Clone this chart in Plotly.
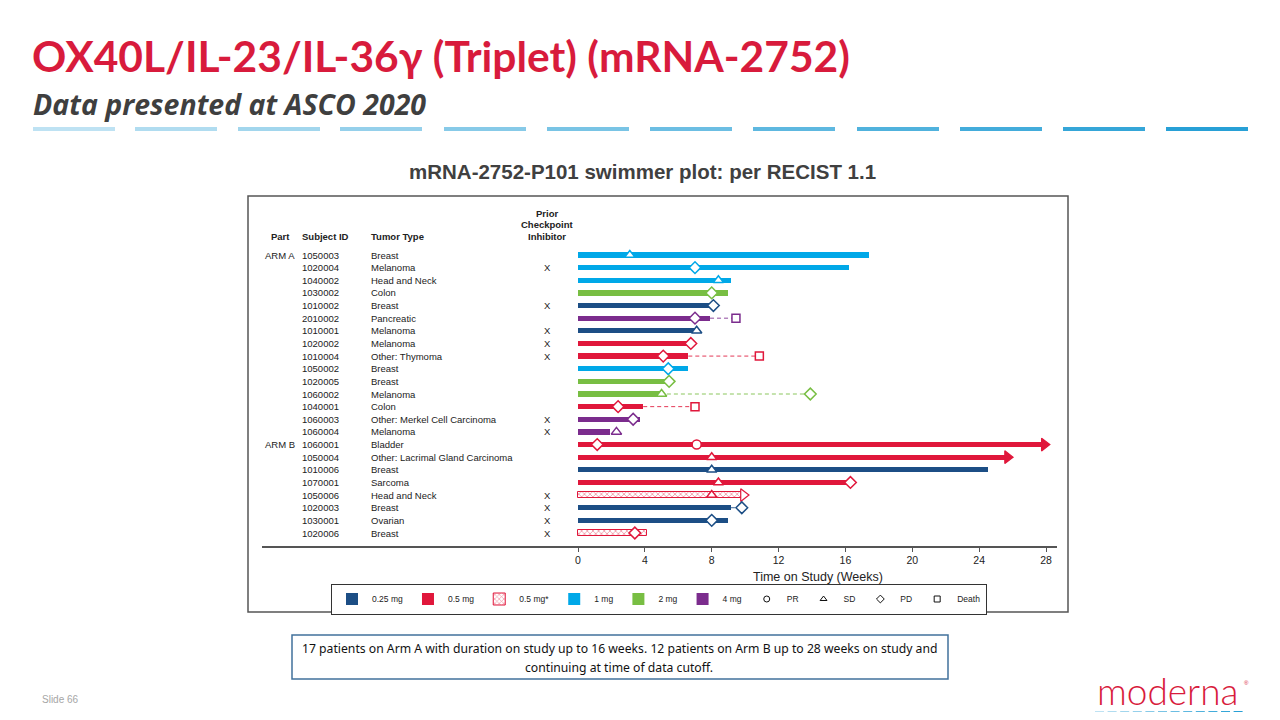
import plotly.graph_objects as go

# ---------------- data ----------------
parts = ["ARM A", "", "", "", "", "", "", "", "", "", "", "", "", "", "",
         "ARM B", "", "", "", "", "", "", ""]
subject_ids = ["1050003", "1020004", "1040002", "1030002", "1010002", "2010002", "1010001",
               "1020002", "1010004", "1050002", "1020005", "1060002", "1040001", "1060003",
               "1060004", "1060001", "1050004", "1010006", "1070001", "1050006", "1020003",
               "1030001", "1020006"]
tumor_types = ["Breast", "Melanoma", "Head and Neck", "Colon", "Breast", "Pancreatic", "Melanoma",
               "Melanoma", "Other: Thymoma", "Breast", "Breast", "Melanoma", "Colon",
               "Other: Merkel Cell Carcinoma", "Melanoma", "Bladder",
               "Other: Lacrimal Gland Carcinoma", "Breast", "Sarcoma", "Head and Neck", "Breast",
               "Ovarian", "Breast"]
prior_cpi = ["", "X", "", "", "X", "", "X", "X", "X", "", "", "", "", "X", "X",
             "", "", "", "", "X", "X", "X", "X"]
doses = ["1 mg", "1 mg", "1 mg", "2 mg", "0.25 mg", "4 mg", "0.25 mg", "0.5 mg", "0.5 mg",
         "1 mg", "2 mg", "2 mg", "0.5 mg", "4 mg", "4 mg", "0.5 mg", "0.5 mg", "0.25 mg",
         "0.5 mg", "0.5 mg*", "0.25 mg", "0.25 mg", "0.5 mg*"]
treatment_weeks = [17.4, 16.2, 9.15, 9.0, 7.9, 7.9, 7.0, 6.5, 6.6, 6.6, 5.2, 4.9, 3.9, 3.7, 1.9,
                   27.9, 25.7, 24.5, 16.3, 9.9, 9.15, 9.0, 4.15]
followup_weeks = [None, None, None, None, None, 9.45, None, None, 10.85, None, None, 13.9, 7.0,
                  None, None, None, None, None, None, None, 9.8, None, None]
ongoing = [False] * 15 + [True, True, False, False, True, False, False, False]
pr_weeks = [None, None, None, None, None, None, None, None, None, None, None, None, None, None,
            None, 7.1, None, None, None, None, None, None, None]
sd_weeks = [3.1, None, 8.4, None, None, None, 7.1, None, None, None, None, 5.0, None, None, 2.3,
            None, 8.0, 8.0, 8.4, 8.0, None, None, None]
pd_weeks = [None, 7.0, None, 8.0, 8.1, 7.0, None, 6.75, 5.1, 5.4, 5.45, 13.9, 2.4, 3.3, None,
            1.15, None, None, 16.3, None, 9.8, 8.0, 3.4]
death_weeks = [None, None, None, None, None, 9.45, None, None, 10.85, None, None, None, 7.0,
               None, None, None, None, None, None, None, None, None, None]

dose_order = ["0.25 mg", "0.5 mg", "0.5 mg*", "1 mg", "2 mg", "4 mg"]
x_ticks = [0, 4, 8, 12, 16, 20, 24, 28]

# ---------------- styling ----------------
RED = "#E0173B"
dose_colors = {"0.25 mg": "#1C4E85", "0.5 mg": RED, "0.5 mg*": RED,
               "1 mg": "#00A8E8", "2 mg": "#78BE43", "4 mg": "#7B2C8D"}
TEXT = "#222222"
FONT = "Liberation Sans, Arial, sans-serif"

OFF = 8                      # page body margin
W, H = 1280 - 2 * OFF, 720 - 2 * OFF
def px(x):
    return (x - OFF) / W
def py(y):
    return 1 - (y - OFF) / H

# axis geometry (screen pixels)
X0_PX, X28_PX = 578, 1046
PXW = (X28_PX - X0_PX) / 28.0
AX_L, AX_R = 262, 1057
ROW0_PX, ROWN_PX = 255, 533
RS = (ROWN_PX - ROW0_PX) / 22.0
AX_TOP, AX_BOT = 200, 546

rows = list(range(len(subject_ids)))

fig = go.Figure()

# treatment bars
for d in dose_order:
    idx = [i for i in rows if doses[i] == d]
    if d == "0.5 mg*":
        marker = dict(color="white", line=dict(color=RED, width=1),
                      pattern=dict(shape="x", fgcolor=RED, bgcolor="white", size=4, solidity=0.35))
    else:
        marker = dict(color=dose_colors[d], line=dict(width=0))
    fig.add_trace(go.Bar(
        x=[treatment_weeks[i] for i in idx], y=idx, base=0, orientation="h",
        width=0.42, marker=marker, name=d, showlegend=True, hoverinfo="skip"))

# follow-up dashed lines
for i in rows:
    if followup_weeks[i] is not None:
        fig.add_trace(go.Scatter(
            x=[treatment_weeks[i], followup_weeks[i]], y=[i, i], mode="lines",
            line=dict(color=dose_colors[doses[i]], width=1, dash="4px,3px"),
            opacity=0.85, showlegend=False, hoverinfo="skip"))

# ongoing arrows
arr_idx = [i for i in rows if ongoing[i]]
fig.add_trace(go.Scatter(
    x=[treatment_weeks[i] for i in arr_idx], y=arr_idx, mode="markers",
    marker=dict(symbol="triangle-right", size=11,
                color=["white" if doses[i] == "0.5 mg*" else dose_colors[doses[i]] for i in arr_idx],
                line=dict(color=[dose_colors[doses[i]] for i in arr_idx], width=1.2)),
    showlegend=False, hoverinfo="skip"))

# response / event markers
events = [("PR", pr_weeks, "circle"), ("SD", sd_weeks, "triangle-up"),
          ("PD", pd_weeks, "diamond"), ("Death", death_weeks, "square")]
for name, vals, sym in events:
    idx = [i for i in rows if vals[i] is not None]
    fig.add_trace(go.Scatter(
        x=[vals[i] for i in idx], y=idx, mode="markers",
        marker=dict(symbol=sym, size=9 if sym != "square" else 8, color="white",
                    line=dict(color=[dose_colors[doses[i]] for i in idx], width=1.5)),
        showlegend=False, hoverinfo="skip"))

# legend entries for symbols
for name, vals, sym in events:
    fig.add_trace(go.Scatter(
        x=[None], y=[None], mode="markers", name=name,
        marker=dict(symbol=sym + "-open", size=6, color="#111111", line=dict(width=1))))

# ---------------- table annotations ----------------
ann = []
cell = dict(size=9.5, color=TEXT, family=FONT)
for i in rows:
    if parts[i]:
        ann.append(dict(x=px(263), y=i, xref="paper", yref="y", text=parts[i],
                        xanchor="left", yanchor="middle", showarrow=False, font=cell))
    ann.append(dict(x=px(300), y=i, xref="paper", yref="y", text=subject_ids[i],
                    xanchor="left", yanchor="middle", showarrow=False, font=cell))
    ann.append(dict(x=px(369), y=i, xref="paper", yref="y", text=tumor_types[i],
                    xanchor="left", yanchor="middle", showarrow=False, font=cell))
    if prior_cpi[i]:
        ann.append(dict(x=px(547), y=i, xref="paper", yref="y", text=prior_cpi[i],
                        xanchor="center", yanchor="middle", showarrow=False, font=cell))

hdr = dict(size=9.5, color=TEXT, family=FONT)
for txt, x, anchor in [("<b>Part</b>", 269, "left"), ("<b>Subject ID</b>", 300, "left"),
                       ("<b>Tumor Type</b>", 369, "left")]:
    ann.append(dict(x=px(x), y=py(236), xref="paper", yref="paper", text=txt, xanchor=anchor,
                    yanchor="middle", showarrow=False, font=hdr))
for txt, y in [("<b>Prior</b>", 213), ("<b>Checkpoint</b>", 224.5), ("<b>Inhibitor</b>", 236)]:
    ann.append(dict(x=px(547), y=py(y), xref="paper", yref="paper", text=txt, xanchor="center",
                    yanchor="middle", showarrow=False, font=hdr))

# axis title
ann.append(dict(x=px(818), y=py(577), xref="paper", yref="paper", text="Time on Study (Weeks)",
                xanchor="center", yanchor="middle", showarrow=False,
                font=dict(size=12.5, color=TEXT, family=FONT)))

# slide texts
ann.append(dict(x=px(30), y=py(56), xref="paper", yref="paper",
                text="<b>OX40L/IL-23/IL-36γ (Triplet) (mRNA-2752)</b>",
                xanchor="left", yanchor="middle", showarrow=False,
                font=dict(size=42.5, color="#D81B3C", family="Lato, Liberation Sans, sans-serif")))
ann.append(dict(x=px(31), y=py(104), xref="paper", yref="paper",
                text="<b><i>Data presented at ASCO 2020</i></b>",
                xanchor="left", yanchor="middle", showarrow=False,
                font=dict(size=28.5, color="#3F3F3F", family="Open Sans, sans-serif")))
ann.append(dict(x=px(642), y=py(171), xref="paper", yref="paper",
                text="<b>mRNA-2752-P101 swimmer plot: per RECIST 1.1</b>",
                xanchor="center", yanchor="middle", showarrow=False,
                font=dict(size=20.5, color="#404040", family=FONT)))
footer_font = dict(size=12.2, color="#111111", family="Noto Sans, sans-serif")
ann.append(dict(x=px(619), y=py(648), xref="paper", yref="paper",
                text="17 patients on Arm A with duration on study up to 16 weeks. 12 patients on Arm B up to 28 weeks on study and",
                xanchor="center", yanchor="middle", showarrow=False, font=footer_font))
ann.append(dict(x=px(619), y=py(667), xref="paper", yref="paper",
                text="continuing at time of data cutoff.",
                xanchor="center", yanchor="middle", showarrow=False, font=footer_font))
ann.append(dict(x=px(40), y=py(699), xref="paper", yref="paper", text="Slide 66",
                xanchor="left", yanchor="middle", showarrow=False,
                font=dict(size=10, color="#A6A6A6", family=FONT)))
ann.append(dict(x=px(1167), y=py(690), xref="paper", yref="paper",
                text="moderna",
                xanchor="center", yanchor="middle", showarrow=False,
                font=dict(size=37, color="#D81B3C", family="Lato, Liberation Sans, sans-serif",
                          weight=300)))
ann.append(dict(x=px(1246), y=py(683), xref="paper", yref="paper",
                text="®", xanchor="center", yanchor="middle", showarrow=False,
                font=dict(size=6, color="#D81B3C", family=FONT)))

# ---------------- shapes ----------------
shapes = []
seg_starts = [33, 135, 238, 340, 444, 547, 650, 753, 857, 960, 1063, 1166]
light = (190, 226, 243)
dark = (40, 160, 214)
for k, s in enumerate(seg_starts):
    t = k / (len(seg_starts) - 1)
    c = tuple(int(light[j] + (dark[j] - light[j]) * t) for j in range(3))
    shapes.append(dict(type="line", xref="paper", yref="paper", x0=px(s), x1=px(s + 82),
                       y0=py(129), y1=py(129), line=dict(color="rgb(%d,%d,%d)" % c, width=4)))
for k in range(12):
    s = 1095 + k * 12.6
    t = k / 11
    c = tuple(int(light[j] + (dark[j] - light[j]) * t) for j in range(3))
    shapes.append(dict(type="line", xref="paper", yref="paper", x0=px(s), x1=px(s + 9),
                       y0=py(712), y1=py(712), line=dict(color="rgb(%d,%d,%d)" % c, width=2)))
shapes.append(dict(type="rect", xref="paper", yref="paper", x0=px(248), x1=px(1068),
                   y0=py(612), y1=py(196), line=dict(color="#555555", width=1.5)))
shapes.append(dict(type="rect", xref="paper", yref="paper", x0=px(292), x1=px(948),
                   y0=py(679), y1=py(635), line=dict(color="#41719C", width=1.5)))

fig.update_layout(
    width=W, height=H, autosize=False,
    margin=dict(l=0, r=0, t=0, b=0),
    paper_bgcolor="white", plot_bgcolor="white",
    barmode="overlay", bargap=0,
    showlegend=True,
    legend=dict(orientation="h", x=px(659), y=py(599), xanchor="center", yanchor="middle",
                bordercolor="#333333", borderwidth=1, bgcolor="white",
                font=dict(size=8.5, color=TEXT, family=FONT), itemwidth=30,
                traceorder="normal", tracegroupgap=0),
    xaxis=dict(domain=[px(AX_L), px(AX_R)],
               range=[-(X0_PX - AX_L) / PXW, 28 + (AX_R - X28_PX) / PXW],
               tickvals=x_ticks, ticktext=[str(v) for v in x_ticks],
               showline=True, linecolor="#555555", linewidth=1.5,
               ticks="outside", ticklen=4, tickcolor="#555555",
               showgrid=False, zeroline=False,
               tickfont=dict(size=10.5, color=TEXT, family=FONT)),
    yaxis=dict(domain=[py(AX_BOT), py(AX_TOP)],
               range=[(AX_BOT - ROW0_PX) / RS, (AX_TOP - ROW0_PX) / RS],
               showticklabels=False, showgrid=False, zeroline=False, showline=False,
               ticks=""),
    annotations=ann, shapes=shapes,
)

fig.write_html("out.html")
